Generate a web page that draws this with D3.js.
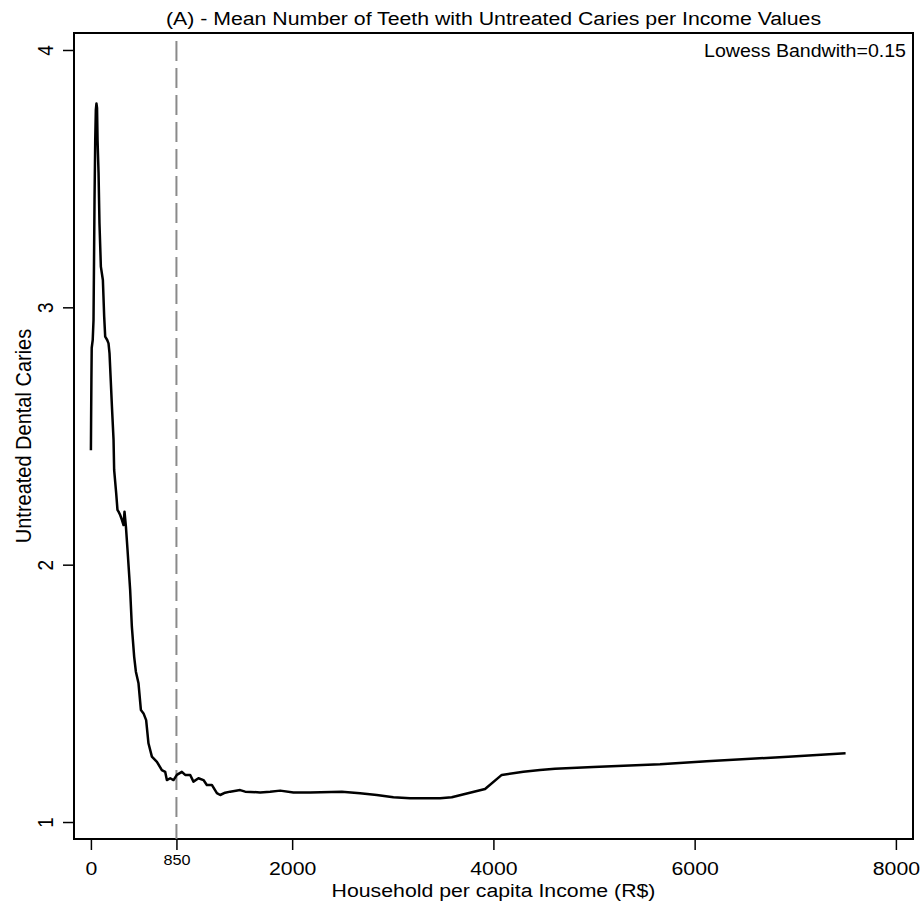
<!DOCTYPE html>
<html>
<head>
<meta charset="utf-8">
<style>
  body { margin: 0; background: #fff; }
  svg text { font-family: "Liberation Sans", Arial, Helvetica, sans-serif; fill: #000; }
</style>
</head>
<body>
<svg id="chart" width="922" height="904"></svg>
<script src="https://cdnjs.cloudflare.com/ajax/libs/d3/7.8.5/d3.min.js"></script>
<script>
// lowess curve: income (R$) and mean untreated caries
var income = [0, 2, 5, 8, 18, 26, 31, 36, 43, 49, 55,
    61, 66, 76, 85, 99, 119, 132, 142, 162, 175, 185, 197, 209, 225, 231, 251, 264, 276, 291,
    308, 324, 334, 348, 364, 390, 407, 430, 447, 473, 497, 523, 549, 572, 606, 656, 705, 738,
    755, 788, 821, 854, 904, 937, 987, 1019, 1069, 1119, 1152, 1202, 1252, 1285, 1334, 1384,
    1483, 1533, 1682, 1781, 1881, 2013, 2179, 2494, 2675, 2841, 3006, 3172, 3470, 3586, 3917,
    4083, 4298, 4463, 4612, 4993, 5656, 6120, 6930, 7500];
var caries = [2.445, 2.562, 2.718, 2.842, 2.873, 2.951, 3.184, 3.418, 3.650, 3.767, 3.792,
    3.775, 3.650, 3.522, 3.328, 3.158, 3.106, 2.964, 2.886, 2.873, 2.860, 2.821, 2.718, 2.614, 2.485, 2.368, 2.279, 2.213, 2.205, 2.193,
    2.174, 2.154, 2.206, 2.148, 2.057, 1.902, 1.759, 1.642, 1.584, 1.539, 1.435, 1.422, 1.396, 1.306, 1.254, 1.234, 1.202, 1.195,
    1.163, 1.170, 1.163, 1.183, 1.195, 1.183, 1.183, 1.157, 1.170, 1.163, 1.144, 1.144, 1.112, 1.105, 1.114, 1.118,
    1.124, 1.118, 1.115, 1.118, 1.122, 1.115, 1.115, 1.118, 1.112, 1.105, 1.096, 1.092, 1.092, 1.096, 1.128,
    1.183, 1.195, 1.202, 1.207, 1.214, 1.224, 1.236, 1.254, 1.267];

var xTicks = [0, 2000, 4000, 6000, 8000];
var yTicks = [1, 2, 3, 4];
var cutoff = [850];

var svg = d3.select('#chart');
// plot frame (window.top is read only, so no "top" here)
var fL = 74, fR = 913, fT = 33, fB = 839;
var midX = (fL + fR) / 2;
var stretch = 'scale(1.12,1)';   // the picture's text is a little wide

var x = d3.scaleLinear().domain([-168, 8170]).range([fL, fR]);
var y = d3.scaleLinear().domain([0.934, 4.066]).range([fB, fT]);

// title
svg.append('text')
    .attr('transform', 'translate(' + midX + ',25) ' + stretch)
    .attr('text-anchor', 'middle')
    .style('font-size', '19px')
    .text('(A) - Mean Number of Teeth with Untreated Caries per Income Values');

// x axis
var xAxis = svg.append('g')
    .attr('transform', 'translate(0,' + fB + ')')
    .call(d3.axisBottom(x).tickValues(xTicks).tickSize(11).tickPadding(10).tickFormat(d3.format('d')));
xAxis.select('.domain').remove();
xAxis.selectAll('line').attr('stroke-width', 1.5);
xAxis.selectAll('text')
    .attr('dy', null).attr('y', 36)
    .attr('transform', stretch)
    .style('font-size', '19px').attr('font-family', null);

// the 850 mark
var cut = svg.append('g')
    .attr('transform', 'translate(0,' + fB + ')')
    .call(d3.axisBottom(x).tickValues(cutoff).tickSize(11));
cut.select('.domain').remove();
cut.selectAll('line').attr('stroke-width', 1.5);
cut.selectAll('text')
    .attr('dy', null).attr('y', 26)
    .attr('transform', stretch)
    .style('font-size', '14.5px').attr('font-family', null);

// y axis, labels turned like Stata does
var yAxis = svg.append('g')
    .attr('transform', 'translate(' + fL + ',0)')
    .call(d3.axisLeft(y).tickValues(yTicks).tickSize(11).tickFormat(d3.format('d')));
yAxis.select('.domain').remove();
yAxis.selectAll('line').attr('stroke-width', 1.5);
yAxis.selectAll('text')
    .attr('x', null)
    .attr('text-anchor', 'middle')
    .attr('transform', 'translate(-29,0) ' + stretch + ' rotate(-90)')
    .attr('dy', '0.36em')
    .style('font-size', '19px').attr('font-family', null);

// frame
svg.append('rect')
    .attr('x', fL).attr('y', fT)
    .attr('width', fR - fL).attr('height', fB - fT)
    .attr('fill', 'none').attr('stroke', '#000').attr('stroke-width', 2);

// dashed reference line
svg.selectAll('.cutline')
    .data(cutoff)
    .enter().append('line')
    .attr('class', 'cutline')
    .attr('x1', d => x(d)).attr('x2', d => x(d))
    .attr('y1', fT + 8).attr('y2', fB)
    .attr('stroke', '#8a8a8a').attr('stroke-width', 2)
    .attr('stroke-dasharray', '20,7');

// curve
var pts = income.map((d, i) => [d, caries[i]]);
svg.append('path')
    .datum(pts)
    .attr('fill', 'none')
    .attr('stroke', '#000')
    .attr('stroke-width', 2.5)
    .attr('stroke-linejoin', 'round')
    .attr('d', d3.line().x(d => x(d[0])).y(d => y(d[1])));

// annotation
svg.append('text')
    .attr('transform', 'translate(' + (fR - 7) + ',57) ' + stretch)
    .attr('text-anchor', 'end')
    .style('font-size', '17.5px')
    .text('Lowess Bandwith=0.15');

// axis titles
svg.append('text')
    .attr('transform', 'translate(' + midX + ',897) ' + stretch)
    .attr('text-anchor', 'middle')
    .style('font-size', '19px')
    .text('Household per capita Income (R$)');

svg.append('text')
    .attr('transform', 'translate(31,' + ((fT + fB) / 2) + ') ' + stretch + ' rotate(-90)')
    .attr('text-anchor', 'middle')
    .style('font-size', '20px')
    .text('Untreated Dental Caries');
</script>
</body>
</html>
